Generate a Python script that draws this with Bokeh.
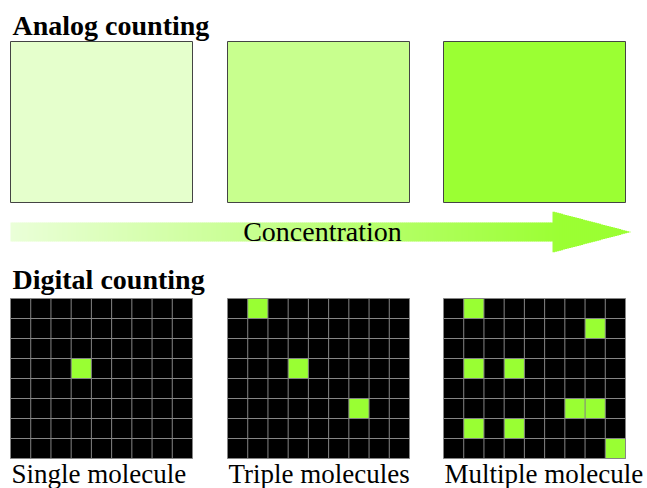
from bokeh.plotting import figure
from bokeh.models import Range1d, ColumnDataSource
from bokeh.core.properties import value
from bokeh.embed import file_html
from bokeh.resources import INLINE

# ---- content ----
section_titles = ["Analog counting", "Digital counting"]
analog_colors = ["#E5FFCC", "#C8FF8E", "#9BFF33"]
arrow_label = "Concentration"
arrow_start_color = (234, 255, 216)
arrow_end_color = (155, 255, 51)
panel_labels = ["Single molecule", "Triple molecules", "Multiple molecule"]
n_cols = 9
n_rows = 8
single_cols = [3]
single_rows = [3]
triple_cols = [1, 3, 6]
triple_rows = [0, 3, 5]
multi_cols = [1, 7, 1, 3, 6, 7, 1, 3, 8]
multi_rows = [0, 1, 3, 3, 5, 5, 6, 6, 7]
lit_color = "#99FF33"

# ---- layout (picture pixel coordinates) ----
W, H = 647, 488
panel_left = [10, 227, 443]
panel_w = 182
analog_top, analog_bottom = 41, 202
grid_top, grid_bottom = 298, 458
serif = value("'Liberation Serif', 'Times New Roman', serif")

p = figure(width=W, height=H, x_range=Range1d(0, W), y_range=Range1d(H, 0),
           output_backend="svg", toolbar_location=None, min_border=0,
           x_axis_type=None, y_axis_type=None)
p.grid.visible = False
p.outline_line_color = None
p.background_fill_color = "white"
p.border_fill_color = "white"

# analog squares
p.quad(left=panel_left, right=[l + panel_w for l in panel_left],
       top=[analog_top] * 3, bottom=[analog_bottom] * 3,
       fill_color=analog_colors, line_color="#444444", line_width=1)

# gradient arrow
x0, x_head, x_tip = 10, 552, 630
shaft_top, shaft_bot = 222, 241
head_top, head_bot = 211, 252
yc = (head_top + head_bot) / 2
L, R, T, B, C = [], [], [], [], []
step = 2
for xs in range(x0, x_tip, step):
    xm = xs + step / 2
    if xm < x_head:
        t, b = shaft_top, shaft_bot
    else:
        half = (head_bot - head_top) / 2 * (x_tip - xm) / (x_tip - x_head)
        t, b = yc - half, yc + half
    f = min(1.0, (xm - x0) / (x_head + 10 - x0))
    col = tuple(int(round(a + (bb - a) * f)) for a, bb in zip(arrow_start_color, arrow_end_color))
    L.append(xs); R.append(xs + step + 0.6); T.append(t); B.append(b)
    C.append("#%02x%02x%02x" % col)
p.quad(left=L, right=R, top=T, bottom=B, fill_color=C, line_color=None)

# digital grids
cell_w = panel_w / n_cols
cell_h = (grid_bottom - grid_top) / n_rows
for gl, cols, rows in zip(panel_left, [single_cols, triple_cols, multi_cols],
                          [single_rows, triple_rows, multi_rows]):
    p.quad(left=[gl], right=[gl + panel_w], top=[grid_top], bottom=[grid_bottom],
           fill_color="black", line_color=None)
    src = ColumnDataSource(dict(
        left=[gl + c * cell_w for c in cols],
        right=[gl + (c + 1) * cell_w for c in cols],
        top=[grid_top + r * cell_h for r in rows],
        bottom=[grid_top + (r + 1) * cell_h for r in rows]))
    p.quad(left="left", right="right", top="top", bottom="bottom", source=src,
           fill_color=lit_color, line_color=None)
    vx = [gl + i * cell_w for i in range(n_cols + 1)]
    p.segment(x0=vx, x1=vx, y0=[grid_top] * len(vx), y1=[grid_bottom] * len(vx),
              line_color="#858585", line_width=1)
    hy = [grid_top + j * cell_h for j in range(n_rows + 1)]
    p.segment(x0=[gl] * len(hy), x1=[gl + panel_w] * len(hy), y0=hy, y1=hy,
              line_color="#858585", line_width=1)

# texts (drawn last, on top)
p.text(x=[12, 12], y=[25, 279], text=section_titles, text_font=serif,
       text_font_size="28px", text_font_style="bold", text_color="black",
       text_baseline="alphabetic", text_align="left")
p.text(x=[322], y=[231], text=[arrow_label], text_font=serif, text_font_size="28px",
       text_color="black", text_align="center", text_baseline="alphabetic")
p.text(x=[l + 1 for l in panel_left], y=[473] * 3, text=panel_labels, text_font=serif,
       text_font_size="27px", text_color="black", text_align="left",
       text_baseline="alphabetic")

open("out.html", "w").write(file_html(p, INLINE))
